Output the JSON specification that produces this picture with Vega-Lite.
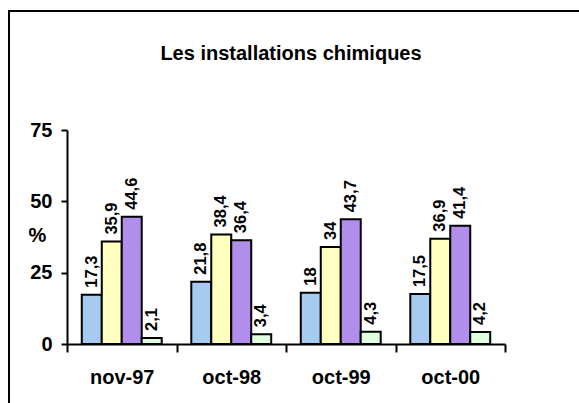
{
  "$schema": "https://vega.github.io/schema/vega-lite/v6.json",
  "autosize": "none",
  "padding": {"left": 9, "top": 11, "right": 0, "bottom": 0},
  "width": 580,
  "height": 400,
  "title": {
    "text": "Les installations chimiques",
    "font": "Liberation Sans",
    "fontSize": 20,
    "fontWeight": "bold",
    "color": "black",
    "anchor": "middle",
    "frame": "group",
    "baseline": "alphabetic",
    "offset": -69,
    "dx": -8
  },
  "config": {
    "locale": {"number": {"decimal": ",", "thousands": " ", "grouping": [3], "currency": ["", " €"]}},
    "view": {"stroke": "black", "strokeWidth": 2},
    "axis": {
      "labelFont": "Liberation Sans",
      "labelFontSize": 20,
      "labelFontWeight": "bold",
      "labelColor": "black",
      "titleFont": "Liberation Sans",
      "titleFontSize": 20,
      "titleFontWeight": "bold",
      "titleColor": "black",
      "domainColor": "black",
      "domainWidth": 2,
      "tickColor": "black",
      "tickWidth": 2,
      "grid": false
    }
  },
  "data": {
    "values": [
      {"date": "nov-97", "serie": "Série 1", "value": 17.3},
      {"date": "nov-97", "serie": "Série 2", "value": 35.9},
      {"date": "nov-97", "serie": "Série 3", "value": 44.6},
      {"date": "nov-97", "serie": "Série 4", "value": 2.1},
      {"date": "oct-98", "serie": "Série 1", "value": 21.8},
      {"date": "oct-98", "serie": "Série 2", "value": 38.4},
      {"date": "oct-98", "serie": "Série 3", "value": 36.4},
      {"date": "oct-98", "serie": "Série 4", "value": 3.4},
      {"date": "oct-99", "serie": "Série 1", "value": 18},
      {"date": "oct-99", "serie": "Série 2", "value": 34},
      {"date": "oct-99", "serie": "Série 3", "value": 43.7},
      {"date": "oct-99", "serie": "Série 4", "value": 4.3},
      {"date": "oct-00", "serie": "Série 1", "value": 17.5},
      {"date": "oct-00", "serie": "Série 2", "value": 36.9},
      {"date": "oct-00", "serie": "Série 3", "value": 41.4},
      {"date": "oct-00", "serie": "Série 4", "value": 4.2}
    ]
  },
  "encoding": {
    "x": {
      "field": "date",
      "type": "nominal",
      "sort": ["nov-97", "oct-98", "oct-99", "oct-00"],
      "scale": {"range": [58, 496], "paddingInner": 0, "paddingOuter": 0},
      "axis": {
        "title": null,
        "offset": -67,
        "labelAngle": 0,
        "tickBand": "extent",
        "tickSize": 8,
        "labelPadding": 15
      }
    },
    "xOffset": {
      "field": "serie",
      "type": "nominal",
      "scale": {"paddingInner": 0, "paddingOuter": 0.74}
    },
    "y": {
      "field": "value",
      "type": "quantitative",
      "scale": {"domain": [0, 75], "range": [333, 119], "nice": false},
      "axis": {
        "values": [0, 25, 50, 75],
        "offset": -58,
        "tickSize": 6,
        "labelPadding": 9,
        "title": "%",
        "titleAngle": 0,
        "titleAlign": "center",
        "titleBaseline": "middle",
        "titleX": -30,
        "titleY": 224.5
      }
    }
  },
  "layer": [
    {
      "mark": {"type": "bar", "stroke": "black", "strokeWidth": 2},
      "encoding": {
        "color": {
          "field": "serie",
          "type": "nominal",
          "legend": null,
          "scale": {
            "domain": ["Série 1", "Série 2", "Série 3", "Série 4"],
            "range": ["#A6CAF0", "#FFFFC0", "#B28EEC", "#E0FFE0"]
          }
        }
      }
    },
    {
      "mark": {
        "type": "text",
        "angle": 270,
        "align": "left",
        "baseline": "middle",
        "dx": 7,
        "font": "Liberation Sans",
        "fontSize": 16.5,
        "fontWeight": "bold",
        "color": "black"
      },
      "encoding": {
        "text": {"field": "value", "type": "quantitative", "format": ".3~r"}
      }
    }
  ]
}
